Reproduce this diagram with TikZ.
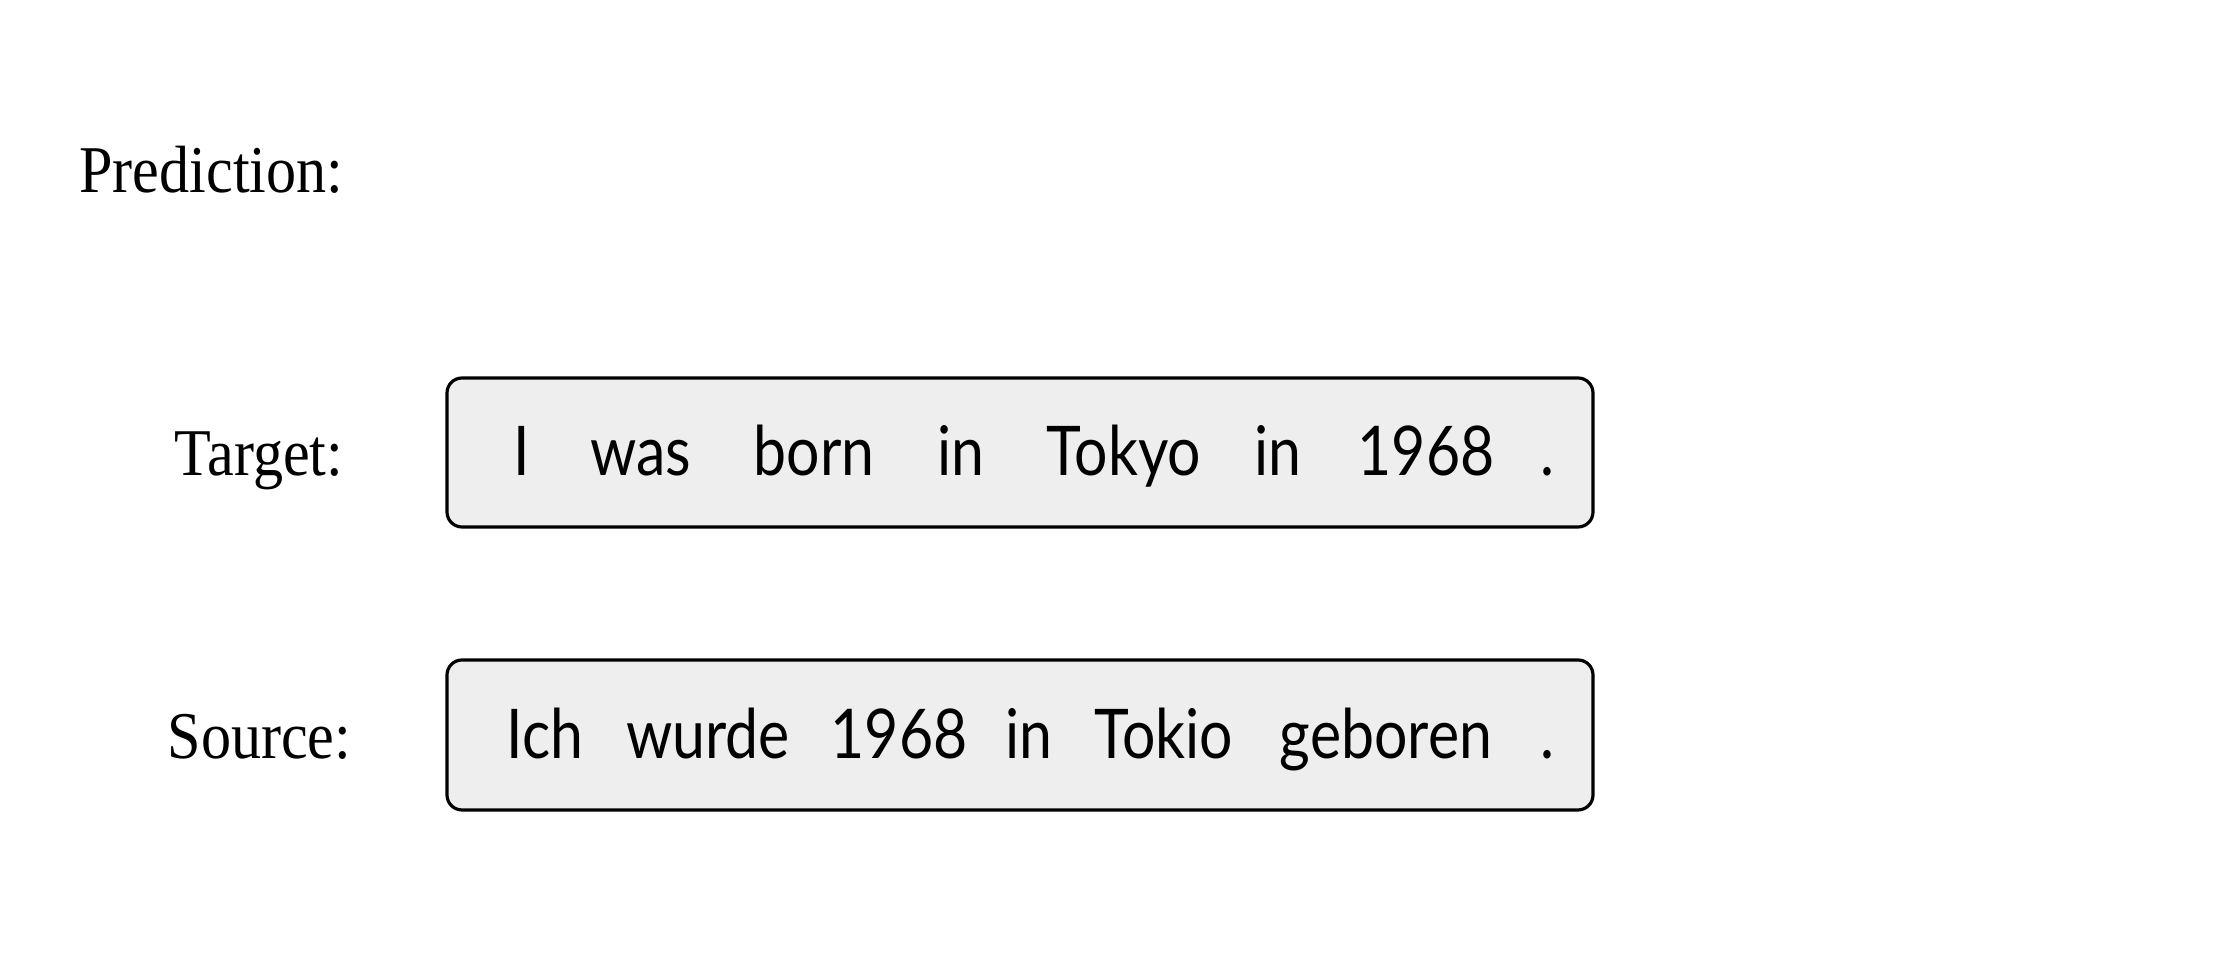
\documentclass[tikz,border=0pt]{standalone}
\usepackage{fontspec}
\setmainfont{Liberation Serif}
\newfontfamily\lblfont[FakeStretch=0.9]{Liberation Serif}
\newfontfamily\tokfont[FakeStretch=0.86]{Lato}
\usetikzlibrary{positioning}
\definecolor{boxgray}{rgb}{0.933,0.933,0.933}

\begin{document}
\begin{tikzpicture}[x=0.01cm,y=-0.01cm,line cap=round,line join=round,
  lbl/.style={anchor=base east,inner sep=0pt,font=\lblfont\fontsize{19}{22}\selectfont},
  sent/.style={draw=black,fill=boxgray,line width=0.9pt,rounded corners=0.15cm},
  tok/.style={anchor=base,font=\tokfont\fontsize{19.5}{22}\selectfont,inner sep=0pt}]
\useasboundingbox (0,0) rectangle (2220,968);
% row labels
\node[lbl] (pred) at (344,193) {Prediction:};
\node[lbl] (targ) at (344,476) {Target:};
\node[lbl] (src) at (352,759) {Source:};
% sentence boxes
\draw[sent] (447,378) rectangle (1593,527);
\draw[sent] (447,660) rectangle (1593,810);
% target tokens
\node[tok] (t1) at (522,476) {I};
\node[tok] (t2) at (641,476) {was};
\node[tok] (t3) at (814,476) {born};
\node[tok] (t4) at (961,476) {in};
\node[tok] (t5) at (1124,476) {Tokyo};
\node[tok] (t6) at (1278,476) {in};
\node[tok] (t7) at (1426,476) {1968};
\node[tok] (t8) at (1547,476) {.};
% source tokens
\node[tok] (s1) at (545,759) {Ich};
\node[tok] (s2) at (708,759) {wurde};
\node[tok] (s3) at (899,759) {1968};
\node[tok] (s4) at (1029,759) {in};
\node[tok] (s5) at (1164,759) {Tokio};
\node[tok] (s6) at (1386,759) {geboren};
\node[tok] (s7) at (1547,759) {.};
\end{tikzpicture}
\end{document}
